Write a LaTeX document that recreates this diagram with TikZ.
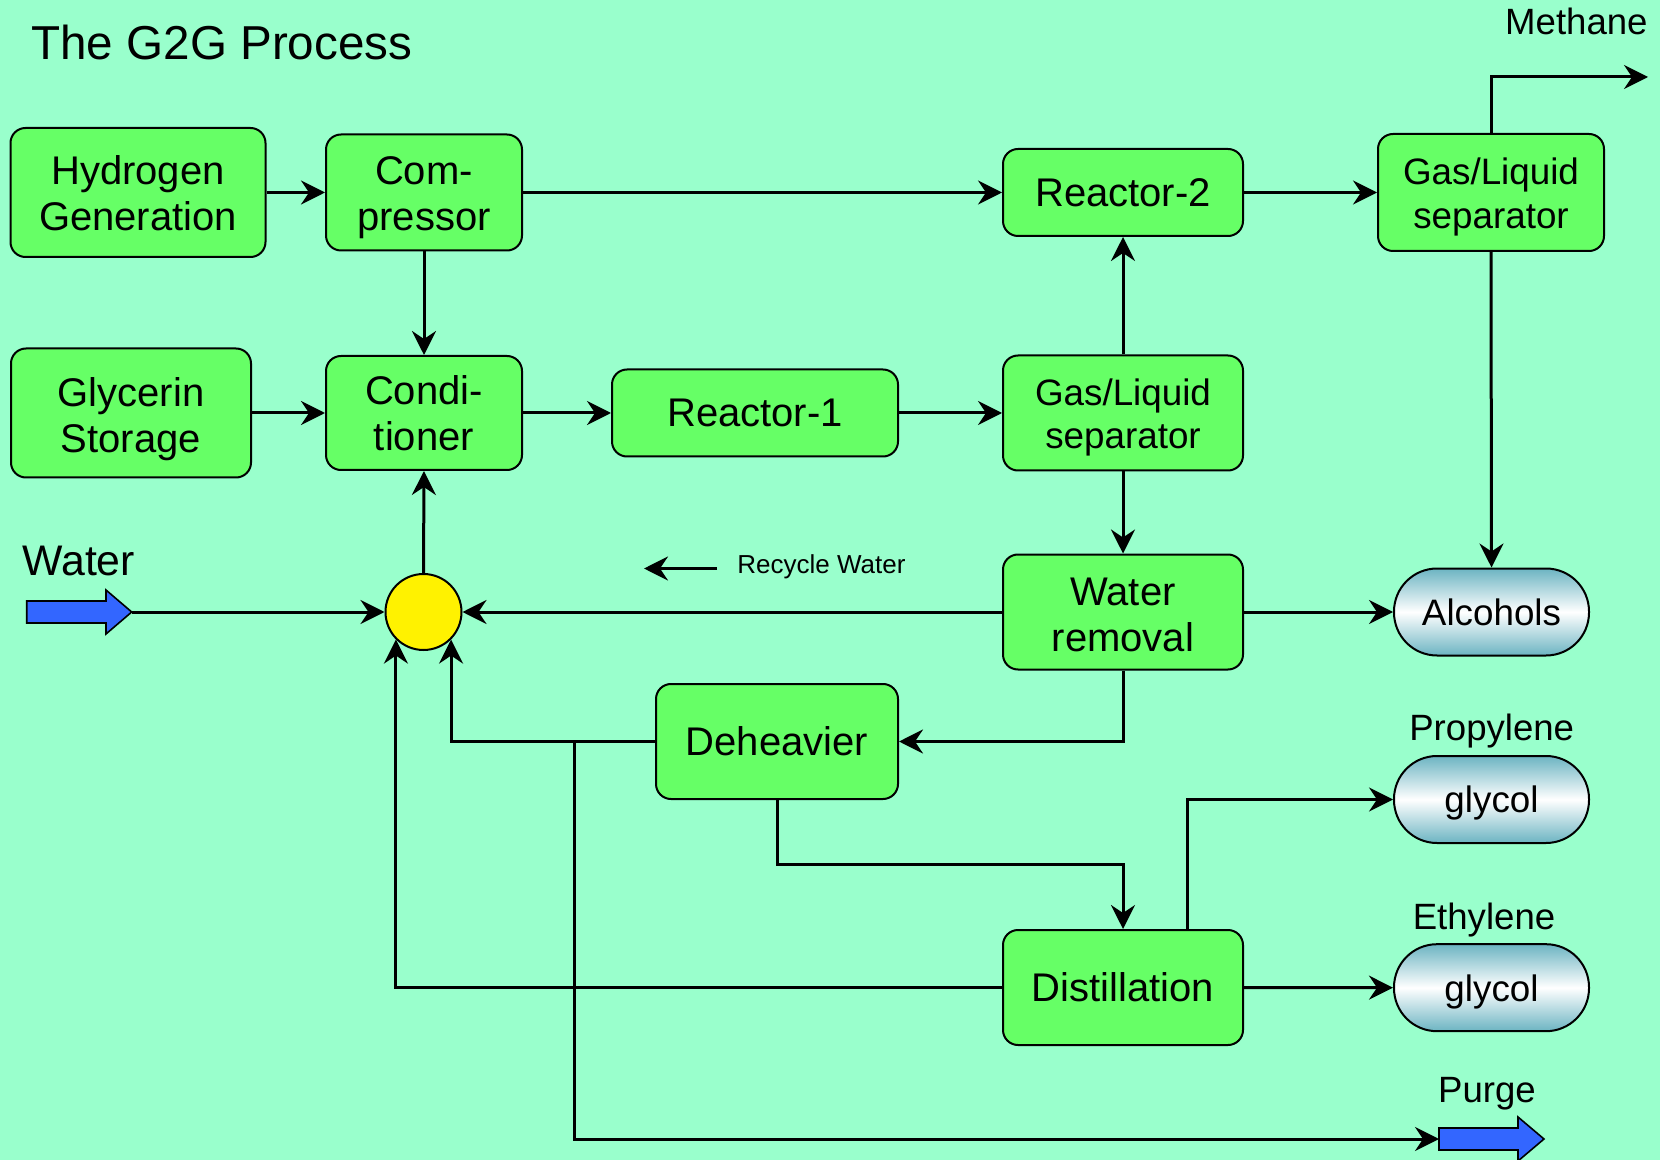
\documentclass[tikz,border=0pt]{standalone}
\usepackage{fontspec}
\setmainfont{Liberation Sans}
\usetikzlibrary{arrows.meta,calc}
\definecolor{bg}{RGB}{153,255,204}
\definecolor{boxg}{RGB}{102,255,102}
\definecolor{cyl}{RGB}{108,180,194}
\definecolor{warrow}{RGB}{51,102,255}
\newcommand\topstrutG[1]{\rule{0pt}{#1}}
\begin{document}
\begin{tikzpicture}[x=0.5pt,y=-0.5pt,
  box/.style={draw=black, line width=1pt, fill=boxg, rounded corners=7.5pt, align=center, inner sep=0pt, font=\fontsize{20}{23}\selectfont},
  glbox/.style={box, font=\fontsize{18.4}{21.7}\selectfont},
  cylnode/.style={draw=black, line width=1pt, rounded corners=21.5pt, top color=cyl, bottom color=cyl, middle color=white, minimum width=97.5pt, minimum height=43.5pt, inner sep=0pt, text height=13.4pt, text depth=0pt, font=\fontsize{18.4}{22}\selectfont},
  lbl/.style={inner sep=0pt, font=\fontsize{18.3}{22}\selectfont},
  conn/.style={line width=1.5pt, -{Stealth[length=12pt,width=12pt,inset=4pt]}},
  bluearrow/.style={draw=black, line width=0.8pt, fill=warrow}]
\fill[bg] (0,0) rectangle (1660,1160);
\useasboundingbox (0,0) rectangle (1660,1160);

% title
\node[anchor=base west, inner sep=0pt, font=\fontsize{23.8}{28}\selectfont] (title) at (31,60) {The G2G Process};

% boxes
\node[box, minimum width=127.5pt, minimum height=64.5pt] (hyd) at (138,192.5) {\topstrutG{15.6pt}Hydrogen\\Generation};
\node[box, minimum width=98pt, minimum height=58pt] (comp) at (424,192.5) {\topstrutG{19.3pt}Com-\\pressor};
\node[box, minimum width=120pt, minimum height=43.5pt] (r2) at (1123,192.5) {Reactor-2};
\node[glbox, minimum width=113pt, minimum height=58.5pt] (gl1) at (1491,192.5) {\topstrutG{17.8pt}Gas/Liquid\\separator};
\node[box, minimum width=120pt, minimum height=64.5pt] (gly) at (131,413) {\topstrutG{20.9pt}Glycerin\\Storage};
\node[box, minimum width=98pt, minimum height=57pt] (cond) at (424,413) {\topstrutG{14.6pt}Condi-\\tioner};
\node[box, minimum width=143pt, minimum height=43.5pt] (r1) at (755,413) {Reactor-1};
\node[glbox, minimum width=120pt, minimum height=57.5pt] (gl2) at (1123,413) {\topstrutG{17.8pt}Gas/Liquid\\separator};
\node[box, minimum width=120pt, minimum height=57.5pt] (wr) at (1123,612) {\topstrutG{16.7pt}Water\\removal};
\node[box, minimum width=121pt, minimum height=57.5pt] (dh) at (777,741.5) {Deheavier};
\node[box, minimum width=120pt, minimum height=57.5pt] (dist) at (1123,987.5) {Distillation};

% mixer
\node[circle, draw=black, line width=1pt, fill=yellow, minimum size=38pt, inner sep=0pt] (circ) at (423.5,612) {};

% product tanks
\node[cylnode] (alc) at (1491.5,612) {Alcohols};
\node[cylnode] (pg) at (1491.5,799.5) {glycol};
\node[cylnode] (eg) at (1491.5,987.7) {glycol};

% labels
\node[lbl, anchor=east] (lmeth) at (1648,21) {Methane};
\node[lbl] (lprop) at (1491.7,731) {Propylene};
\node[lbl] (leth) at (1484,920) {Ethylene};
\node[lbl] (lpurge) at (1487,1094) {Purge};
\node[inner sep=0pt, anchor=west, font=\fontsize{21.4}{25}\selectfont] (lwater) at (22,561) {Water};
\node[inner sep=0pt, anchor=west, font=\fontsize{13}{16}\selectfont] (lrec) at (737,567) {Recycle Water};

% blue arrows
\draw[bluearrow] (26.7,601) -- (106,601) -- (106,590) -- (131.7,612) -- (106,634) -- (106,623) -- (26.7,623) -- cycle;
\coordinate (wtip) at (131.7,612);
\draw[bluearrow] (1439,1128) -- (1518,1128) -- (1518,1117) -- (1544,1139) -- (1518,1161) -- (1518,1150) -- (1439,1150) -- cycle;
\coordinate (ptail) at (1439,1139);

% coordinates
\coordinate (meth) at (1648,77);
\coordinate (br) at (574,741.5);
\coordinate (dd) at (1123,864);
\coordinate (ra) at (717,568.5);
\coordinate (rb) at (644,568.5);

% connectors
\draw[conn] (hyd.east) -- (comp.west);
\draw[conn] (comp.east) -- (r2.west);
\draw[conn] (r2.east) -- (gl1.west);
\draw[conn] (comp.south) -- (cond.north);
\draw[conn] (gly.east) -- (cond.west);
\draw[conn] (cond.east) -- (r1.west);
\draw[conn] (r1.east) -- (gl2.west);
\draw[conn] (gl2.north) -- (r2.south);
\draw[conn] (gl2.south) -- (wr.north);
\draw[conn] (wr.east) -- (alc.west);
\draw[conn] (gl1.south) -- (alc.north);
\draw[conn] (gl1.north) |- (meth);
\draw[conn] (wr.west) -- (circ.east);
\draw[conn] (wtip) -- (circ.west);
\draw[conn] (circ.north) -- (cond.south);
\draw[conn] (wr.south) |- (dh.east);
\draw[conn] (dh.west) -| (circ.south east);
\draw[conn] (br) |- (ptail);
\draw[conn] (dh.south) |- (dd) -- (dist.north);
\draw[conn] ([xshift=32pt]dist.north) |- (pg.west);
\draw[conn] (dist.east) -- (eg.west);
\draw[conn] (dist.west) -| (circ.south west);
\draw[conn] (ra) -- (rb);
\end{tikzpicture}
\end{document}
